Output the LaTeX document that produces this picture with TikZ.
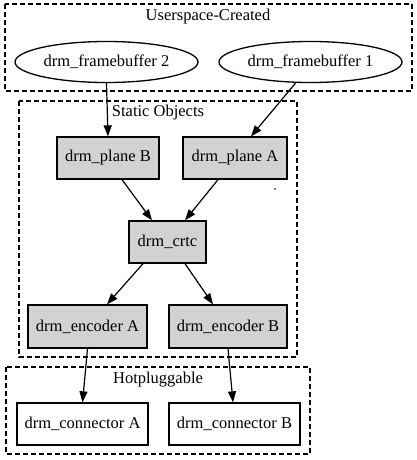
\documentclass[tikz,border=0pt]{standalone}
\usepackage{fontspec}
\setmainfont{Liberation Serif}
\usetikzlibrary{shapes.geometric,arrows.meta}
\begin{document}
\begin{tikzpicture}[x=1pt,y=-1pt,
  lbl/.style={font=\fontsize{16.5}{18}\selectfont},
  box/.style={lbl,draw,line width=1.3pt,rectangle,inner sep=0pt},
  greybox/.style={box,fill=gray!35},
  oval/.style={lbl,draw,line width=1.3pt,ellipse,inner sep=0pt,minimum width=183pt,minimum height=41pt},
  cluster/.style={draw,line width=1.3pt,dash pattern=on 5pt off 3pt},
  edge/.style={draw,line width=1.2pt,-{Triangle[length=11pt,width=8pt]}}
]
\useasboundingbox (0,0) rectangle (417,460);
% clusters
\draw[cluster] (5,4) rectangle (412,91);
\draw[cluster] (19,101) rectangle (297,357);
\draw[cluster] (6,367) rectangle (310,454);
\node[lbl] (tu) at (208,17) {Userspace-Created};
\node[lbl] (ts) at (158,113) {Static Objects};
\node[lbl] (th) at (158,380) {Hotpluggable};
% nodes
\node[oval] (fb2) at (106.5,62) {drm\_framebuffer 2};
\node[oval] (fb1) at (310.5,62) {drm\_framebuffer 1};
\node[greybox,minimum width=102pt,minimum height=42pt] (pb) at (108,158) {drm\_plane B};
\node[greybox,minimum width=104pt,minimum height=42pt] (pa) at (235,158) {drm\_plane A};
\node[greybox,minimum width=77pt,minimum height=42pt] (crtc) at (167.5,242) {drm\_crtc};
\node[greybox,minimum width=119pt,minimum height=43pt] (ea) at (87.5,326.5) {drm\_encoder A};
\node[greybox,minimum width=118pt,minimum height=43pt] (eb) at (228,326.5) {drm\_encoder B};
\node[box,minimum width=131pt,minimum height=42pt] (ca) at (82.5,424) {drm\_connector A};
\node[box,minimum width=131pt,minimum height=42pt] (cb) at (234.5,424) {drm\_connector B};
\fill (275,189) circle (0.9pt);
% edges
\draw[edge] (fb2.south) -- (pb.north);
\draw[edge] ([xshift=-15pt]fb1.south) -- ([xshift=16pt]pa.north);
\draw[edge] ([xshift=14pt]pb.south) -- ([xshift=-15.5pt]crtc.north);
\draw[edge] ([xshift=-17pt]pa.south) -- ([xshift=17.5pt]crtc.north);
\draw[edge] ([xshift=-24.5pt]crtc.south) -- ([xshift=19.5pt]ea.north);
\draw[edge] ([xshift=17.5pt]crtc.south) -- ([xshift=-15pt]eb.north);
\draw[edge] (ea.south) -- (ca.north);
\draw[edge] (eb.south) -- ([xshift=-1.5pt]cb.north);
\end{tikzpicture}
\end{document}
